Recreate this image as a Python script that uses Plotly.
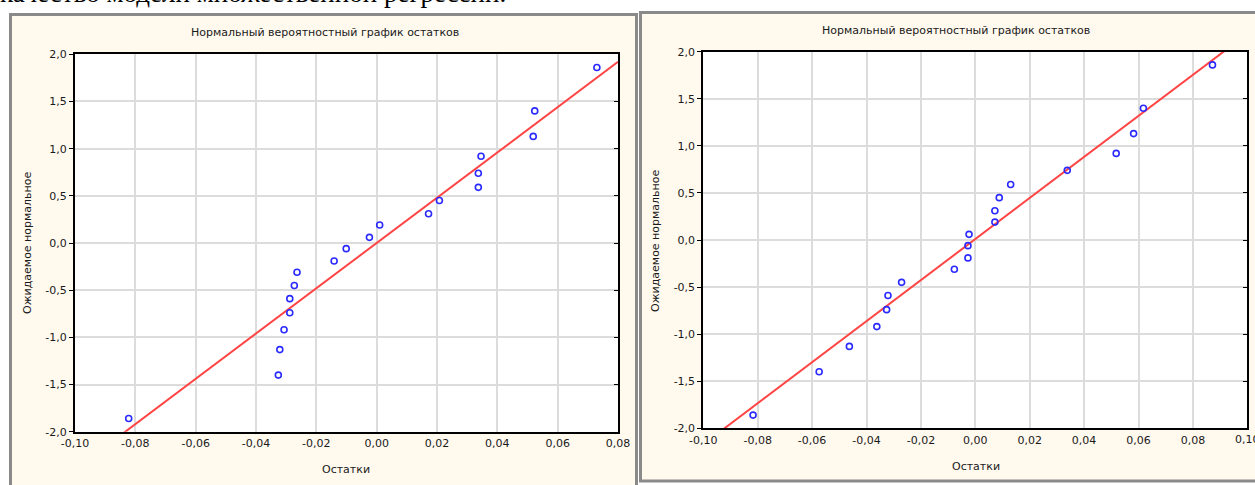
import plotly.graph_objects as go

W, H = 1255, 485

# ---------- data ----------
expected_normal = [-1.86, -1.40, -1.13, -0.92, -0.74, -0.59, -0.45, -0.31, -0.19, -0.06,
                   0.06, 0.19, 0.31, 0.45, 0.59, 0.74, 0.92, 1.13, 1.40, 1.86]

left_resid = [-0.0822, -0.0326, -0.0321, -0.0307, -0.0288, -0.0288, -0.0273, -0.0264, -0.0141, -0.0101,
              -0.0024, 0.0010, 0.0172, 0.0208, 0.0337, 0.0337, 0.0346, 0.0519, 0.0524, 0.0730]
right_resid = [-0.0817, -0.0574, -0.0463, -0.0362, -0.0326, -0.0321, -0.0271, -0.0077, -0.0027, -0.0027,
               -0.0023, 0.0072, 0.0072, 0.0088, 0.0130, 0.0338, 0.0518, 0.0582, 0.0618, 0.0872]

left_fit = (24.0, 0.0)      # slope, intercept of reference line
right_fit = (21.8, 0.01)

left_xticks = [-0.10, -0.08, -0.06, -0.04, -0.02, 0.00, 0.02, 0.04, 0.06, 0.08]
left_xlabels = ["-0,10", "-0,08", "-0,06", "-0,04", "-0,02", "0,00", "0,02", "0,04", "0,06", "0,08"]
right_xticks = [-0.10, -0.08, -0.06, -0.04, -0.02, 0.00, 0.02, 0.04, 0.06, 0.08, 0.10]
right_xlabels = ["-0,10", "-0,08", "-0,06", "-0,04", "-0,02", "0,00", "0,02", "0,04", "0,06", "0,08", "0,10"]
yticks = [-2.0, -1.5, -1.0, -0.5, 0.0, 0.5, 1.0, 1.5, 2.0]
ylabels = ["-2,0", "-1,5", "-1,0", "-0,5", "0,0", "0,5", "1,0", "1,5", "2,0"]

title_text = "Нормальный вероятностный график остатков"
xtitle = "Остатки"
ytitle = "Ожидаемое нормальное"
top_text = "качество модели множественной регрессии."

# ---------- helpers ----------
def px(x):
    return x / W

def py(y):
    return 1 - y / H

FONT = "DejaVu Sans"
TXT = "#1a1a1a"
CREAM = "#FFF9EE"
MARK = "#2a2aff"
RED = "#FF4444"

fig = go.Figure()

for i, (resid, fit, xr) in enumerate([(left_resid, left_fit, [-0.10, 0.08]),
                                      (right_resid, right_fit, [-0.10, 0.10])]):
    xa = "x" if i == 0 else "x2"
    ya = "y" if i == 0 else "y2"
    lx = [xr[0], xr[1]]
    ly = [fit[0] * v + fit[1] for v in lx]
    fig.add_trace(go.Scatter(x=lx, y=ly, mode="lines", xaxis=xa, yaxis=ya,
                             line=dict(color=RED, width=2), showlegend=False, hoverinfo="skip"))
    fig.add_trace(go.Scatter(x=resid, y=expected_normal, mode="markers", xaxis=xa, yaxis=ya,
                             marker=dict(symbol="circle-open", size=6, color=MARK,
                                         line=dict(width=1.6, color=MARK)),
                             showlegend=False, cliponaxis=False))

axis_common = dict(showline=True, linecolor="black", linewidth=2, mirror=True,
                   showgrid=True, gridcolor="#DCDCDC", gridwidth=1.5, zeroline=False,
                   automargin=False,
                   tickfont=dict(family=FONT, size=11, color=TXT))
right_ticks = dict(range=[-2.0, 2.0], tickvals=yticks, ticks="inside", ticklen=4, tickcolor="black",
                   showticklabels=False, showgrid=False, showline=False, zeroline=False,
                   side="right", automargin=False)

# plot areas (pixel geometry)
L = dict(x0=75, x1=618, y0=54.3, y1=431.7)
R = dict(x0=703.3, x1=1247.3, y0=51.7, y1=428.3)

fig.update_layout(
    width=W, height=H,
    margin=dict(l=0, r=0, t=0, b=0, autoexpand=False),
    paper_bgcolor="white", plot_bgcolor="rgba(0,0,0,0)",
    xaxis=dict(domain=[px(L["x0"]), px(L["x1"])], range=[-0.10, 0.08],
               tickvals=left_xticks, ticktext=left_xlabels, ticks="", anchor="y", **axis_common),
    yaxis=dict(domain=[py(L["y1"]), py(L["y0"])], range=[-2.0, 2.0],
               tickvals=yticks, ticktext=ylabels, ticks="outside", ticklen=4, tickcolor="black",
               anchor="x", **axis_common),
    xaxis2=dict(domain=[px(R["x0"]), px(R["x1"])], range=[-0.10, 0.10],
                tickvals=right_xticks, ticktext=right_xlabels, ticks="", anchor="y2", **axis_common),
    yaxis2=dict(domain=[py(R["y1"]), py(R["y0"])], range=[-2.0, 2.0],
                tickvals=yticks, ticktext=ylabels, ticks="outside", ticklen=4, tickcolor="black",
                anchor="x2", **axis_common),
    yaxis3=dict(overlaying="y", anchor="x", **right_ticks),
    yaxis4=dict(overlaying="y2", anchor="x2", **right_ticks),
)

# invisible traces so the right-side tick axes are drawn
fig.add_trace(go.Scatter(x=[None], y=[None], xaxis="x", yaxis="y3", showlegend=False, hoverinfo="skip"))
fig.add_trace(go.Scatter(x=[None], y=[None], xaxis="x2", yaxis="y4", showlegend=False, hoverinfo="skip"))

shapes = [
    # panels
    dict(type="rect", xref="paper", yref="paper", x0=px(10.5), x1=px(636.5), y0=py(492), y1=py(14.5),
         fillcolor=CREAM, line=dict(color="#8A8A8A", width=3), layer="below"),
    dict(type="rect", xref="paper", yref="paper", x0=px(640.5), x1=px(1260), y0=py(481), y1=py(12.5),
         fillcolor=CREAM, line=dict(color="#8A8A8A", width=3), layer="below"),
    # white plot areas
    dict(type="rect", xref="paper", yref="paper", x0=px(L["x0"]), x1=px(L["x1"]), y0=py(L["y1"]), y1=py(L["y0"]),
         fillcolor="white", line=dict(width=0), layer="below"),
    dict(type="rect", xref="paper", yref="paper", x0=px(R["x0"]), x1=px(R["x1"]), y0=py(R["y1"]), y1=py(R["y0"]),
         fillcolor="white", line=dict(width=0), layer="below"),
]
fig.update_layout(shapes=shapes)

ann = []
def add_text(text, x, y, size=11, angle=0, xanchor="center", yanchor="middle", family=FONT, color=TXT):
    ann.append(dict(text=text, x=px(x), y=py(y), xref="paper", yref="paper", showarrow=False,
                    xanchor=xanchor, yanchor=yanchor, textangle=angle,
                    font=dict(family=family, size=size, color=color)))

add_text(title_text, 325, 33)
add_text(title_text, 956, 31)
add_text(xtitle, 346, 469)
add_text(xtitle, 976, 466)
add_text(ytitle, 27, 243, angle=-90)
add_text(ytitle, 655, 241, angle=-90)
add_text(top_text, -2, 10, size=27, xanchor="left", yanchor="bottom",
         family="Liberation Serif", color="black")
# last x tick label of the right chart (plotly hides it because it overflows the page edge)
ann.append(dict(text=right_xlabels[-1], x=right_xticks[-1], xref="x2", y=py(R["y1"] + 11), yref="paper",
                showarrow=False, xanchor="center", yanchor="middle",
                font=dict(family=FONT, size=11, color=TXT)))
fig.update_layout(annotations=ann)

fig.write_html("out.html", config={"displayModeBar": False},
               post_script="document.body.style.margin='0';document.body.style.overflow='hidden';")
